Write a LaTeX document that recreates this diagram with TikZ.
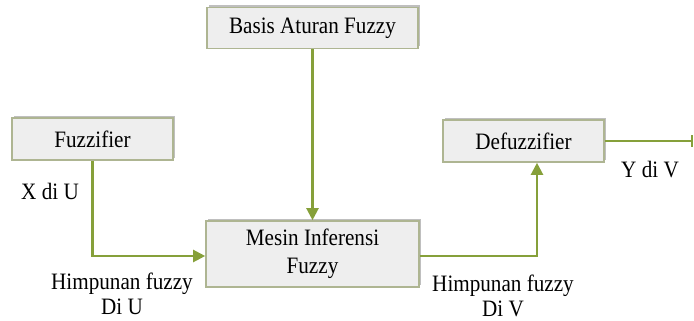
\documentclass[tikz,border=0pt]{standalone}
\usepackage{fontspec}
\setmainfont{Liberation Serif}
\newfontfamily\tnr[FakeStretch=0.9]{Liberation Serif}
\usetikzlibrary{arrows.meta,shadows,patterns}
\definecolor{linegreen}{HTML}{86A03A}
\definecolor{boxborder}{HTML}{AEB592}
\definecolor{boxfill}{HTML}{EEEEEE}
\tikzset{
  blk/.style={rectangle, draw=boxborder, line width=1.6pt, fill=boxfill,
    drop shadow={shadow xshift=1.5pt, shadow yshift=2pt, opacity=0.25, fill=black},
    align=center, inner sep=0pt, font=\tnr\fontsize{23.5}{28}\selectfont},
  conn/.style={draw=linegreen, line width=2.2pt, -{Triangle[width=12pt,length=12pt]}},
  lbl/.style={align=center, inner sep=0pt, font=\tnr\fontsize{23.5}{25}\selectfont}
}
\begin{document}
\begin{tikzpicture}[x=1pt,y=-1pt]
\useasboundingbox (0,0) rectangle (694,321);
\node[blk, minimum width=211pt, minimum height=41pt] (basis) at (312.5,28) {Basis Aturan Fuzzy};
\node[blk, minimum width=161pt, minimum height=42pt] (fuzz) at (92.5,139) {Fuzzifier};
\node[blk, minimum width=161pt, minimum height=42pt] (defuzz) at (523.5,141) {Defuzzifier};
\node[blk, minimum width=213pt, minimum height=66pt] (mesin) at (312.5,254) {Mesin Inferensi\\Fuzzy};
\coordinate (out) at (693,141);
\draw[conn] (basis.south) -- (mesin.north);
\draw[conn] (fuzz.south) |- ([yshift=-2pt]mesin.west);
\draw[conn] ([yshift=-2pt]mesin.east) -| ([xshift=13.5pt]defuzz.south);
\draw[draw=linegreen, line width=2.2pt, -{Bar[width=12pt,line width=2pt]}] (defuzz.east) -- (out);
\node[lbl] (xu) at (50,191) {X di U};
\node[lbl] (yv) at (650,170) {Y di V};
\node[lbl] (hu) at (122,294) {Himpunan fuzzy\\Di U};
\node[lbl] (hv) at (503,296) {Himpunan fuzzy\\Di V};
\end{tikzpicture}
\end{document}
